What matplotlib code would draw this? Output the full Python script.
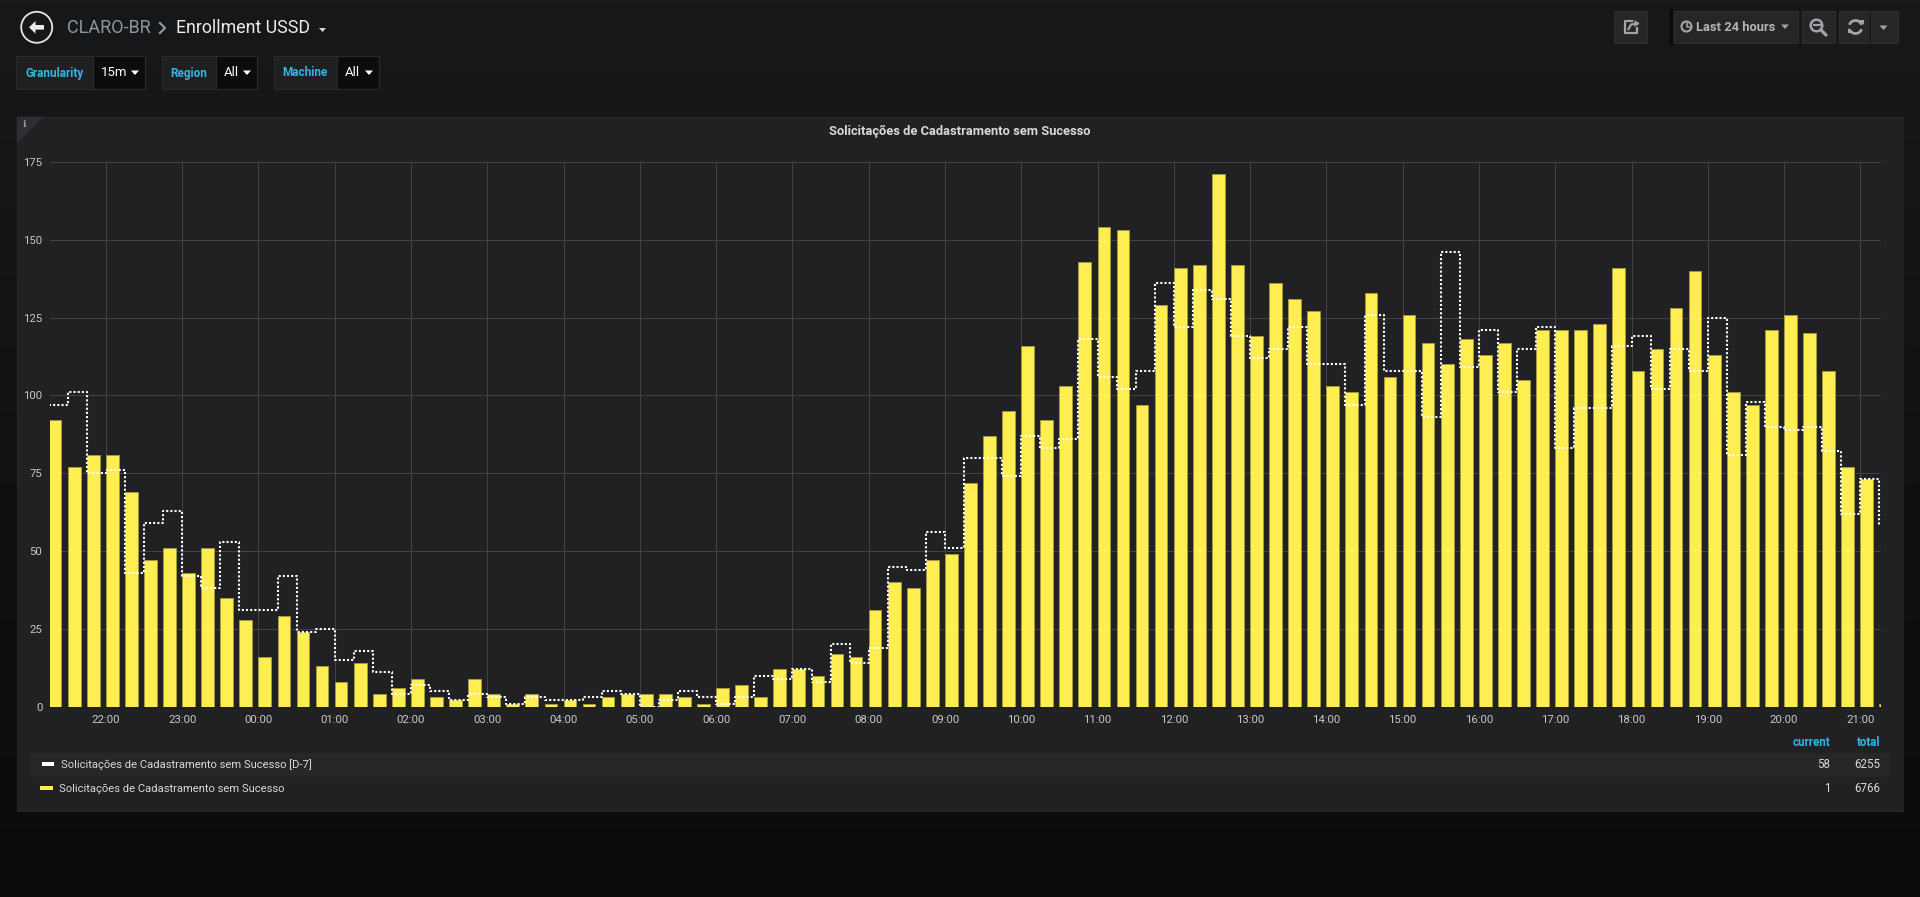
import numpy as np
import pandas as pd
import matplotlib
matplotlib.use('Agg')
import matplotlib.pyplot as plt
import matplotlib.dates as mdates
from matplotlib.patches import Rectangle, Circle, Polygon, Arc

plt.rcParams['font.family'] = ['Roboto', 'DejaVu Sans']

# ---------------- data ----------------
times = pd.date_range('2019-03-10 21:15', periods=97, freq='15min')
current = [92, 77, 81,
           81, 69, 47, 51,
           43, 51, 35, 28,
           16, 29, 24, 13,
           8, 14, 4, 6,
           9, 3, 2, 9,
           4, 1, 4, 1,
           2, 1, 3, 4,
           4, 4, 3, 1,
           6, 7, 3, 12,
           12, 10, 17, 16,
           31, 40, 38, 47,
           49, 72, 87, 95,
           116, 92, 103, 143,
           154, 153, 97, 129,
           141, 142, 171, 142,
           119, 136, 131, 127,
           103, 101, 133, 106,
           126, 117, 110, 118,
           113, 117, 105, 121,
           121, 121, 123, 141,
           108, 115, 128, 140,
           113, 101, 97, 121,
           126, 120, 108, 77,
           73, 1]
d7 = [97, 101, 75,
      76, 43, 59, 63,
      42, 38, 53, 31,
      31, 42, 24, 25,
      15, 18, 11, 4,
      7, 5, 2, 4,
      3, 1, 3, 2,
      2, 3, 5, 4,
      0, 2, 5, 3,
      1, 3, 10, 9,
      12, 8, 20, 14,
      19, 45, 44, 56,
      51, 80, 80, 74,
      87, 83, 86, 118,
      106, 102, 108, 136,
      122, 134, 131, 119,
      112, 115, 122, 110,
      110, 97, 126, 108,
      108, 93, 146, 109,
      121, 101, 115, 122,
      83, 96, 96, 116,
      119, 102, 115, 108,
      125, 81, 98, 90,
      89, 90, 82, 62,
      73, 58]
series_current = 'Solicitações de Cadastramento sem Sucesso'
series_d7 = 'Solicitações de Cadastramento sem Sucesso [D-7]'
panel_title = 'Solicitações de Cadastramento sem Sucesso'
y_ticks = [0, 25, 50, 75, 100, 125, 150, 175]
t_end = pd.Timestamp('2019-03-11 21:16')
t_start = t_end - pd.Timedelta(hours=24)

# ---------------- figure ----------------
W, H = 1920, 897
fig = plt.figure(figsize=(W / 100, H / 100), dpi=100)
fig.patch.set_facecolor('#141517')

bg = fig.add_axes([0, 0, 1, 1], zorder=0)
bg.set_xlim(0, W)
bg.set_ylim(H, 0)
bg.axis('off')

# background gradient
top = np.array([0x17, 0x18, 0x1a]) / 255
bot = np.array([0x0a, 0x0b, 0x0d]) / 255
g = np.linspace(0, 1, 256)[:, None]
grad = top[None, None, :] * (1 - g[:, :, None]) + bot[None, None, :] * g[:, :, None]
grad = np.repeat(grad, 2, axis=1)
bg.imshow(grad, extent=[0, W, H, 0], aspect='auto', zorder=0)

# ---- header ----
cx, cy = 36.7, 27.3
bg.add_patch(Circle((cx, cy), 15.5, fill=False, ec='#e6e6e6', lw=1.3, zorder=2))
arrow = [(-7.7, 0), (-1.2, -6.3), (-1.2, -2.3), (7.3, -2.3), (7.3, 2.3), (-1.2, 2.3), (-1.2, 6.3)]
bg.add_patch(Polygon([(cx + a, cy + b) for a, b in arrow], closed=True, fc='#ececec', ec='none', zorder=2))
bg.text(67, 28, 'CLARO-BR', color='#8e97a1', fontsize=13, va='center', ha='left', zorder=2)
bg.plot([160, 165, 160], [23, 28, 33], color='#8e97a1', lw=1.6, zorder=2)
bg.text(176, 28, 'Enrollment USSD', color='#ececec', fontsize=12.8, va='center', ha='left', zorder=2)
bg.add_patch(Polygon([(319, 28), (326, 28), (322.5, 32)], closed=True, fc='#d8d8d8', ec='none', zorder=2))

# ---- variable selectors ----
def variable(x0, x1, x2, label, value):
    y0, h = 55.7, 33.6
    bg.add_patch(Rectangle((x0, y0), x1 - x0, h, fc='#1f2022', ec='#2a2b2e', lw=0.8, zorder=2))
    bg.add_patch(Rectangle((x1, y0), x2 - x1, h, fc='#0b0c0e', ec='#2a2b2e', lw=0.8, zorder=2))
    bg.text((x0 + x1) / 2, y0 + h / 2 + 0.5, label, color='#33b5e5', fontsize=8.5,
            fontweight='bold', ha='center', va='center', zorder=3)
    bg.text(x1 + 8, y0 + h / 2 + 0.5, value, color='#ffffff', fontsize=9.5,
            ha='left', va='center', zorder=3)
    bx = x2 - 10
    bg.add_patch(Polygon([(bx - 4, 70.5), (bx + 4, 70.5), (bx, 75)], closed=True,
                         fc='#ffffff', ec='none', zorder=3))

variable(16.3, 93, 145, 'Granularity', '15m')
variable(161.5, 215.5, 257, 'Region', 'All')
variable(273.5, 337, 379, 'Machine', 'All')

# ---- top-right buttons ----
btn_fc, btn_ec = '#262628', '#2e2f32'
icon_c = '#a2a4a7'
for x0, x1 in [(1614, 1647), (1673, 1798), (1802, 1835), (1839, 1898)]:
    bg.add_patch(Rectangle((x0, 11), x1 - x0, 32, fc=btn_fc, ec=btn_ec, lw=0.8, zorder=2))
bg.plot([1670.5, 1670.5], [11, 43], color='#08090a', lw=2.5, zorder=2)
bg.plot([1870, 1870], [11, 43], color='#1c1c1e', lw=1.2, zorder=3)
# share icon
bg.plot([1632, 1624.5, 1624.5, 1636.5, 1636.5], [21, 21, 33, 33, 28.5], color=icon_c, lw=1.6, zorder=3)
bg.plot([1628.5, 1631, 1637.5], [29, 24.5, 23.5], color=icon_c, lw=1.6, zorder=3)
bg.add_patch(Polygon([(1634.5, 20), (1639.5, 23.5), (1634.5, 27)], closed=True, fc=icon_c, ec='none', zorder=3))
# clock icon + time picker text
bg.add_patch(Circle((1686.5, 26.5), 5, fill=False, ec=icon_c, lw=1.5, zorder=3))
bg.plot([1686.5, 1686.5, 1689.5], [23.5, 26.8, 26.8], color=icon_c, lw=1.1, zorder=3)
bg.text(1696.5, 27.3, 'Last 24 hours', color='#b3b4b6', fontsize=9.3, ha='left', va='center',
        fontweight='bold', zorder=3)
bg.add_patch(Polygon([(1781, 24.5), (1789, 24.5), (1785, 29)], closed=True, fc=icon_c, ec='none', zorder=3))
# zoom-out icon
bg.add_patch(Circle((1816.5, 25.5), 5.8, fill=False, ec=icon_c, lw=1.8, zorder=3))
bg.plot([1813.5, 1819.5], [25.5, 25.5], color=icon_c, lw=1.6, zorder=3)
bg.plot([1820.8, 1826], [29.8, 35], color=icon_c, lw=2.4, solid_capstyle='round', zorder=3)
# refresh icon
bg.add_patch(Arc((1855.5, 27), 13, 13, theta1=20, theta2=160, ec=icon_c, lw=2, zorder=3))
bg.add_patch(Arc((1855.5, 27), 13, 13, theta1=200, theta2=340, ec=icon_c, lw=2, zorder=3))
bg.add_patch(Polygon([(1858.5, 20.5), (1863.5, 20.5), (1863.5, 25.5)], closed=True, fc=icon_c, ec='none', zorder=3))
bg.add_patch(Polygon([(1852.5, 33.5), (1847.5, 33.5), (1847.5, 28.5)], closed=True, fc=icon_c, ec='none', zorder=3))
bg.add_patch(Polygon([(1879.5, 25.5), (1887.5, 25.5), (1883.5, 30)], closed=True, fc=icon_c, ec='none', zorder=3))

# ---- panel ----
bg.add_patch(Rectangle((16.7, 116.7), 1886.6, 694, fc='#212124', ec='#252528', lw=0.8, zorder=1))
bg.add_patch(Polygon([(16.7, 116.7), (44, 116.7), (16.7, 144)], closed=True, fc='#2e2e32', ec='none', zorder=2))
bg.text(24.5, 124.5, 'i', color='#9a9a9a', fontsize=7, ha='center', va='center', fontweight='bold',
        family=['DejaVu Serif'], zorder=3)
bg.text(959.5, 131, panel_title, color='#d8d9da', fontsize=9.3, fontweight='bold',
        ha='center', va='center', zorder=3)

# ---- legend ----
bg.add_patch(Rectangle((30, 752.7), 1860, 24, fc='#27272a', ec='none', zorder=2))
bg.add_patch(Rectangle((42, 762.5), 12, 3.5, fc='#ffffff', ec='none', zorder=3))
bg.add_patch(Rectangle((40, 786.5), 13, 3.5, fc='#FFEE52', ec='none', zorder=3))
bg.text(61, 764.5, series_d7, color='#d8d9da', fontsize=8.15, ha='left', va='center', zorder=3)
bg.text(59, 788.8, series_current, color='#d8d9da', fontsize=8.15, ha='left', va='center', zorder=3)
bg.text(1830, 742.5, 'current', color='#33b5e5', fontsize=8.3, fontweight='bold', ha='right', va='center', zorder=3)
bg.text(1880, 742.5, 'total', color='#33b5e5', fontsize=8.3, fontweight='bold', ha='right', va='center', zorder=3)
bg.text(1830, 764.5, f'{d7[-1]}', color='#d8d9da', fontsize=8.3, ha='right', va='center', zorder=3)
bg.text(1880, 764.5, f'{sum(d7)}', color='#d8d9da', fontsize=8.3, ha='right', va='center', zorder=3)
bg.text(1830, 788.8, f'{current[-1]}', color='#d8d9da', fontsize=8.3, ha='right', va='center', zorder=3)
bg.text(1880, 788.8, f'{sum(current)}', color='#d8d9da', fontsize=8.3, ha='right', va='center', zorder=3)

# ---------------- chart ----------------
left, right, ytop, ybot = 50, 1880.7, 162, 706.7
ax = fig.add_axes([left / W, 1 - ybot / H, (right - left) / W, (ybot - ytop) / H], zorder=5)
ax.set_facecolor('none')

xnum = mdates.date2num(times.to_pydatetime())
ax.bar(xnum, current, width=10 / 1440, align='edge', color='#FFEE52',
       edgecolor='#a39a3c', linewidth=0.7, zorder=2)
ax.step(xnum, d7, where='post', color='#ffffff', lw=1.5, linestyle=(0, (1, 1)), zorder=3)

ax.set_xlim(mdates.date2num(t_start.to_pydatetime()), mdates.date2num(t_end.to_pydatetime()))
ax.set_ylim(0, 175)
ax.set_yticks(y_ticks)
ax.xaxis.set_major_locator(mdates.HourLocator())
ax.xaxis.set_major_formatter(mdates.DateFormatter('%H:%M'))
ax.grid(True, color='#414245', lw=0.75, zorder=0)
ax.set_axisbelow(True)
for s in ax.spines.values():
    s.set_visible(False)
ax.tick_params(axis='both', length=0, colors='#c7c8ca', labelsize=8.2)
ax.tick_params(axis='x', pad=6)
ax.tick_params(axis='y', pad=5.5)

fig.savefig('out.png', dpi=100, facecolor=fig.get_facecolor())
